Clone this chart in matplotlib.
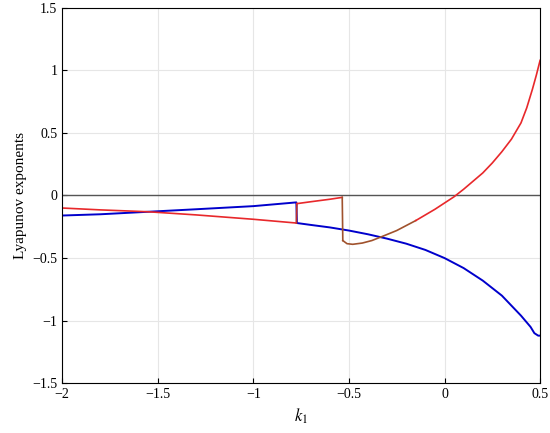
import matplotlib
matplotlib.use("Agg")
import matplotlib.pyplot as plt
import numpy as np

plt.rcParams['font.family'] = ['Liberation Serif', 'DejaVu Serif']
plt.rcParams['mathtext.fontset'] = 'stix'

# blue exponent
blue_k1 = [-2.0, -1.8, -1.55, -1.3, -1.0, -0.775, -0.772, -0.7, -0.6, -0.5, -0.4, -0.3, -0.2, -0.1, 0.0, 0.1, 0.2, 0.3, 0.4, 0.45, 0.47, 0.49, 0.5]
blue_le = [-0.16, -0.15, -0.13, -0.11, -0.085, -0.055, -0.22, -0.235, -0.255, -0.28, -0.31, -0.345, -0.385, -0.435, -0.5, -0.58, -0.68, -0.8, -0.96, -1.05, -1.1, -1.12, -1.12]
# red exponent, first piece
red1_k1 = [-2.0, -1.8, -1.55, -1.3, -1.0, -0.775]
red1_le = [-0.1, -0.115, -0.13, -0.155, -0.19, -0.22]
# red exponent, middle piece
red2_k1 = [-0.772, -0.7, -0.6, -0.535]
red2_le = [-0.065, -0.05, -0.03, -0.015]
# red exponent, last piece
red3_k1 = [-0.532, -0.51, -0.48, -0.43, -0.38, -0.33, -0.25, -0.15, -0.05, 0.05, 0.1, 0.2, 0.25, 0.3, 0.35, 0.4, 0.43, 0.46, 0.48, 0.5]
red3_le = [-0.36, -0.385, -0.39, -0.38, -0.36, -0.33, -0.28, -0.2, -0.11, -0.01, 0.05, 0.18, 0.26, 0.35, 0.45, 0.58, 0.7, 0.85, 0.96, 1.08]

fig, ax = plt.subplots(figsize=(5.5, 4.33), dpi=100)
ax.axhline(0, color='#555555', lw=1)
ax.plot(blue_k1, blue_le, color='#0000cc', lw=1.4)
ax.plot(red1_k1, red1_le, color='#e8282b', lw=1.2)
ax.plot([red1_k1[-1], red2_k1[0]], [red1_le[-1], red2_le[0]], color='#c0302b', lw=1.2)
ax.plot(red2_k1, red2_le, color='#e8282b', lw=1.2)
ax.plot([red2_k1[-1], red3_k1[0]], [red2_le[-1], red3_le[0]], color='#a0522d', lw=1.2)
ax.plot(red3_k1[:8], red3_le[:8], color='#a0522d', lw=1.2)
ax.plot(red3_k1[7:], red3_le[7:], color='#e8282b', lw=1.2)

ax.set_xlim(-2, 0.5)
ax.set_ylim(-1.5, 1.5)
ax.set_xticks([-2, -1.5, -1, -0.5, 0, 0.5])
ax.set_xticklabels(['−2', '−1.5', '−1', '−0.5', '0', '0.5'])
ax.set_yticks([-1.5, -1, -0.5, 0, 0.5, 1, 1.5])
ax.set_yticklabels(['−1.5', '−1', '−0.5', '0', '0.5', '1', '1.5'])
ax.grid(True, color='#e6e6e6', lw=0.8)
ax.set_axisbelow(True)
ax.tick_params(direction='in', labelsize=10)
ax.set_xlabel('$k_1$', fontsize=12)
ax.set_ylabel('Lyapunov exponents', fontsize=11)
fig.subplots_adjust(left=0.113, right=0.982, top=0.982, bottom=0.115)
fig.savefig('out.png', dpi=100)
